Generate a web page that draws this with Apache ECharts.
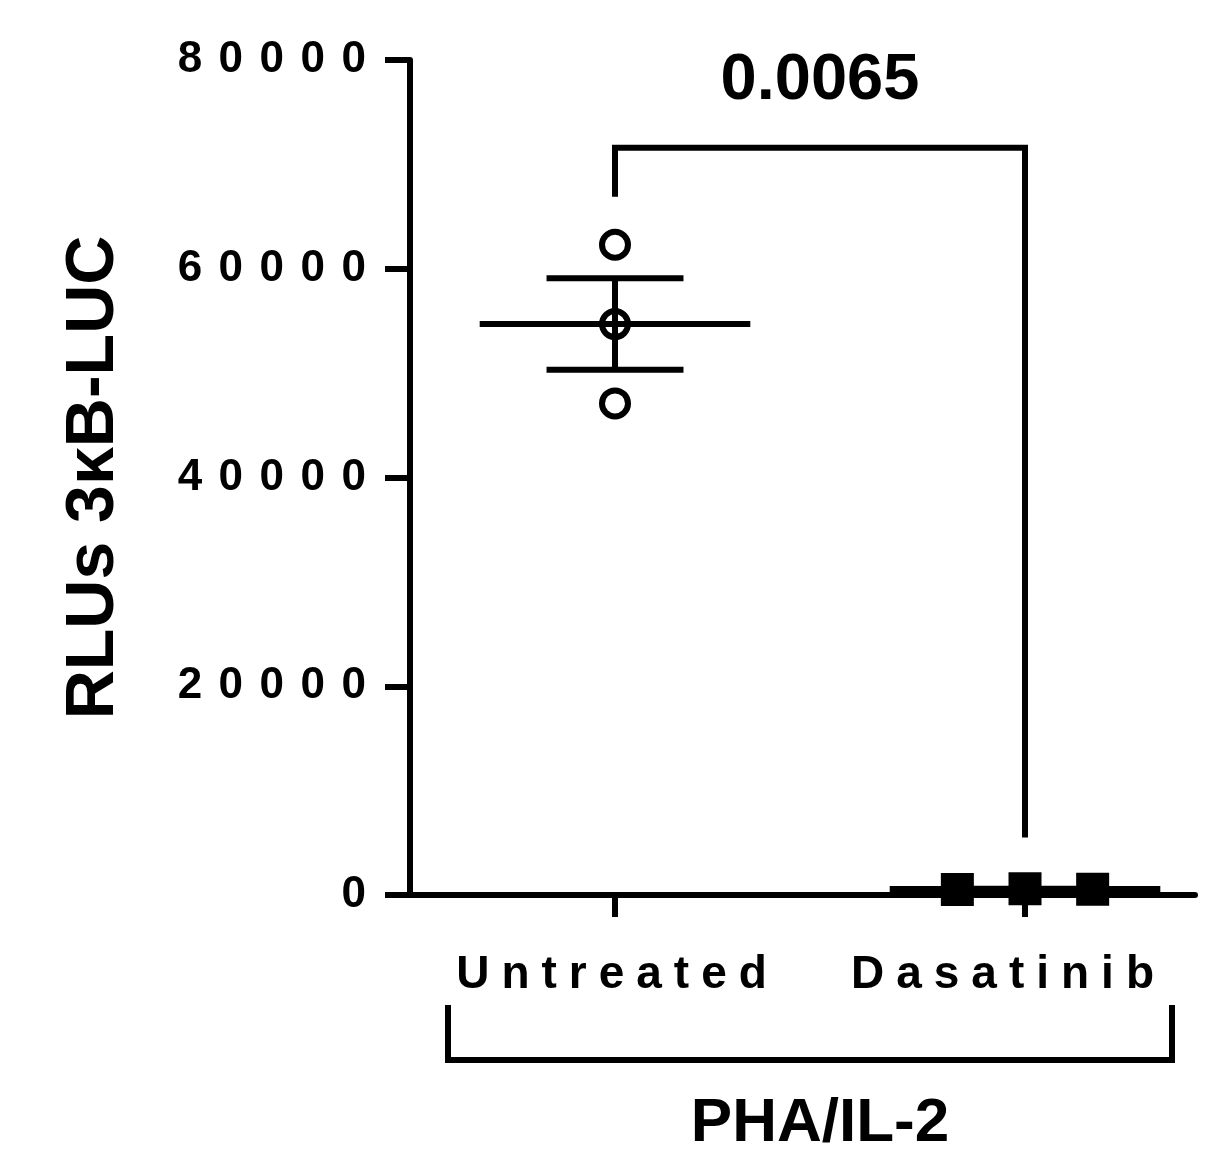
<!DOCTYPE html>
<html>
<head>
<meta charset="utf-8">
<script src="https://cdn.jsdelivr.net/npm/echarts@6/dist/echarts.min.js"></script>
<style>
  html, body { margin: 0; padding: 0; background: #fff; }
  #main { width: 1209px; height: 1151px; }
</style>
</head>
<body>
<div id="main"></div>
<script>
// data
var categories = ["Untreated", "Dasatinib"];
var untreated = [62300, 54700, 47100];
var dasatinib = [520, 610, 560];
var yTicks = [0, 20000, 40000, 60000, 80000];
var pLabel = "0.0065";
var bracketLegs = [66900, 71600, 5500]; // left leg bottom, bar, right leg bottom
var groupName = "PHA/IL-2";
var yName = "RLUs 3\u03baB-LUC";

// letter spacing: every char but the last gets right padding
function spaced(s, style) {
  var cs = s.split("");
  return cs.map(function (c, i) {
    return "{" + (i < cs.length - 1 ? style : style + "L") + "|" + c + "}";
  }).join("");
}
function meanSem(arr) {
  var m = arr.reduce(function (a, b) { return a + b; }, 0) / arr.length;
  var v = arr.reduce(function (a, b) { return a + (b - m) * (b - m); }, 0) / (arr.length - 1);
  return [m, Math.sqrt(v) / Math.sqrt(arr.length)];
}

var groups = [untreated, dasatinib];
var stats = groups.map(function (g, i) {
  var ms = meanSem(g);
  return [i + 1, ms[0], ms[1]];
});

var circlePts = untreated.map(function (v) { return [1, v]; });
var squarePts = dasatinib.map(function (v, i) { return [2 + (i - 1) * 0.165, v]; });

var xFont = { color: "#000", fontFamily: "Liberation Sans", fontWeight: "bold", fontSize: 46 };
var yFont = { color: "#000", fontFamily: "Liberation Sans", fontWeight: "bold", fontSize: 44 };

var myChart = echarts.init(document.getElementById("main"));

var option = {
  animation: false,
  grid: { left: 410, right: 14, top: 60, bottom: 256 },
  xAxis: {
    type: "value",
    min: 0.5,
    max: 2.4146,
    splitLine: { show: false },
    axisLine: { show: true, onZero: false, lineStyle: { color: "#000", width: 6 } },
    axisTick: { show: true, customValues: [1, 2], length: 22, lineStyle: { color: "#000", width: 6 } },
    axisLabel: {
      customValues: [0.9915, 1.945],
      margin: 57,
      color: "#000",
      formatter: function (v) {
        return spaced(v < 1.5 ? categories[0] : categories[1], "c");
      },
      rich: {
        c: Object.assign({ padding: [0, 12, 0, 0] }, xFont),
        cL: Object.assign({}, xFont)
      }
    }
  },
  yAxis: {
    type: "value",
    min: 0,
    max: 80000,
    interval: 20000,
    splitLine: { show: false },
    name: yName,
    nameLocation: "middle",
    nameGap: 282,
    nameTextStyle: { color: "#000", fontFamily: "Liberation Sans", fontWeight: "bold", fontSize: 68 },
    axisLine: { show: true, lineStyle: { color: "#000", width: 6 } },
    axisTick: { show: true, length: 25, lineStyle: { color: "#000", width: 6 } },
    axisLabel: {
      margin: 44,
      color: "#000",
      formatter: function (v) { return yTicks.indexOf(v) >= 0 ? spaced(String(v), "d") : ""; },
      rich: {
        d: Object.assign({ padding: [0, 16.5, 0, 0] }, yFont),
        dL: Object.assign({}, yFont)
      }
    }
  },
  graphic: [
    {
      type: "polyline",
      shape: { points: [[448, 1005], [448, 1060], [1172, 1060], [1172, 1005]] },
      style: { stroke: "#000", lineWidth: 6, fill: null }
    },
    {
      type: "text",
      x: 820,
      y: 1124,
      style: {
        text: groupName,
        fill: "#000",
        font: "bold 62px 'Liberation Sans'",
        align: "center",
        verticalAlign: "middle"
      }
    }
  ],
  series: [
    {
      type: "custom",
      data: stats,
      z: 3,
      renderItem: function (params, api) {
        var x = api.value(0), m = api.value(1), s = api.value(2);
        var a = api.coord([x - 0.33, m]), b = api.coord([x + 0.33, m]);
        var t1 = api.coord([x - 0.167, m + s]), t2 = api.coord([x + 0.167, m + s]);
        var b1 = api.coord([x - 0.167, m - s]), b2 = api.coord([x + 0.167, m - s]);
        var st = { stroke: "#000", lineWidth: 6 };
        return {
          type: "group",
          children: [
            { type: "line", shape: { x1: a[0], y1: a[1], x2: b[0], y2: b[1] }, style: st },
            { type: "line", shape: { x1: t1[0], y1: t1[1], x2: t2[0], y2: t2[1] }, style: st },
            { type: "line", shape: { x1: b1[0], y1: b1[1], x2: b2[0], y2: b2[1] }, style: st },
            { type: "line", shape: { x1: (t1[0] + t2[0]) / 2, y1: t1[1], x2: (b1[0] + b2[0]) / 2, y2: b1[1] }, style: st }
          ]
        };
      }
    },
    {
      type: "scatter",
      data: circlePts,
      symbol: "circle",
      symbolSize: 26,
      z: 4,
      itemStyle: { color: "rgba(0,0,0,0)", borderColor: "#000", borderWidth: 6, opacity: 1 }
    },
    {
      type: "scatter",
      data: squarePts,
      symbol: "rect",
      symbolSize: 33,
      z: 4,
      itemStyle: { color: "#000", opacity: 1 }
    },
    {
      type: "custom",
      data: [[1, 2]],
      z: 3,
      renderItem: function (params, api) {
        var p1 = api.coord([1, bracketLegs[0]]);
        var p2 = api.coord([1, bracketLegs[1]]);
        var p3 = api.coord([2, bracketLegs[1]]);
        var p4 = api.coord([2, bracketLegs[2]]);
        var tp = api.coord([1.5, 78000]);
        return {
          type: "group",
          children: [
            {
              type: "polyline",
              shape: { points: [p1, p2, p3, p4] },
              style: { stroke: "#000", lineWidth: 6, fill: null }
            },
            {
              type: "text",
              x: tp[0],
              y: tp[1],
              style: {
                text: pLabel,
                fill: "#000",
                font: "bold 65px 'Liberation Sans'",
                align: "center",
                verticalAlign: "middle"
              }
            }
          ]
        };
      }
    }
  ]
};

myChart.setOption(option);
</script>
</body>
</html>
